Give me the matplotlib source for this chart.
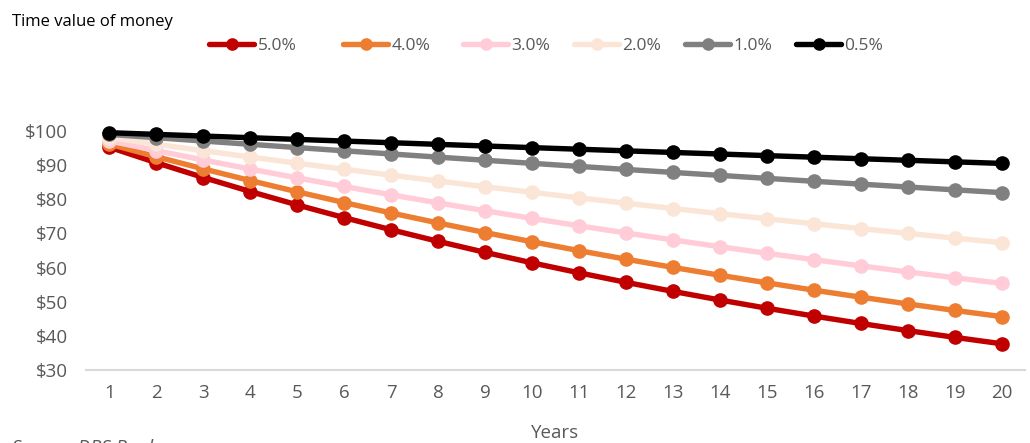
import matplotlib.pyplot as plt

plt.rcParams['font.family'] = ['Open Sans', 'DejaVu Sans']

years = list(range(1, 21))
rate_labels = ['5.0%', '4.0%', '3.0%', '2.0%', '1.0%', '0.5%']
colours = ['#C00000', '#ED7D31', '#FFCCD8', '#FBE5D6', '#808080', '#000000']

pv_5_0 = [95.24, 90.70, 86.38, 82.27, 78.35, 74.62, 71.07, 67.68, 64.46, 61.39,
          58.47, 55.68, 53.03, 50.51, 48.10, 45.81, 43.63, 41.55, 39.57, 37.69]
pv_4_0 = [96.15, 92.46, 88.90, 85.48, 82.19, 79.03, 75.99, 73.07, 70.26, 67.56,
          64.96, 62.46, 60.06, 57.75, 55.53, 53.39, 51.34, 49.36, 47.46, 45.64]
pv_3_0 = [97.09, 94.26, 91.51, 88.85, 86.26, 83.75, 81.31, 78.94, 76.64, 74.41,
          72.24, 70.14, 68.10, 66.11, 64.19, 62.32, 60.50, 58.74, 57.03, 55.37]
pv_2_0 = [98.04, 96.12, 94.23, 92.38, 90.57, 88.80, 87.06, 85.35, 83.68, 82.03,
          80.43, 78.85, 77.30, 75.79, 74.30, 72.84, 71.42, 70.02, 68.64, 67.30]
pv_1_0 = [99.01, 98.03, 97.06, 96.10, 95.15, 94.20, 93.27, 92.35, 91.43, 90.53,
          89.63, 88.74, 87.87, 87.00, 86.13, 85.28, 84.44, 83.60, 82.77, 81.95]
pv_0_5 = [99.50, 99.01, 98.52, 98.03, 97.54, 97.05, 96.57, 96.09, 95.61, 95.13,
          94.66, 94.19, 93.72, 93.26, 92.79, 92.33, 91.88, 91.42, 90.97, 90.51]
series = [pv_5_0, pv_4_0, pv_3_0, pv_2_0, pv_1_0, pv_0_5]

y_ticks = [30, 40, 50, 60, 70, 80, 90, 100]

W, H = 1030, 443
fig = plt.figure(figsize=(W / 100, H / 100), dpi=100)
ax = fig.add_axes([86 / W, 1 - 370 / H, 939 / W, 239 / H])

lines = []
for vals, lab, col in zip(series, rate_labels, colours):
    ln, = ax.plot(years, vals, color=col, lw=3.9, marker='o', ms=9.5,
                  label=lab, clip_on=False, solid_capstyle='round')
    lines.append(ln)

ax.set_xlim(0.5, 20.5)
ax.set_ylim(30, 100)
ax.set_xticks(years)
ax.set_yticks(y_ticks)
ax.set_yticklabels(['$%d' % v for v in y_ticks])
ax.tick_params(axis='both', length=0, labelsize=13.5, labelcolor='#595959')
ax.tick_params(axis='y', pad=13)
ax.tick_params(axis='x', pad=10)
for s in ['top', 'right', 'left']:
    ax.spines[s].set_visible(False)
ax.spines['bottom'].set_color('#D9D9D9')
ax.spines['bottom'].set_linewidth(1.5)

# legend entries sit at uneven spacing, so each gets its own small legend
legend_x = [209, 343, 463, 574, 685, 796]
for ln, x0 in zip(lines, legend_x):
    leg = fig.legend(handles=[ln], loc='center left',
                     bbox_to_anchor=(x0 / W, 1 - 46 / H), frameon=False,
                     fontsize=12.5, handlelength=2.6, handletextpad=0.2,
                     borderpad=0, borderaxespad=0, markerscale=0.85)
    for t in leg.get_texts():
        t.set_color('#595959')

fig.text(12 / W, 1 - 22 / H, 'Time value of money', fontsize=12,
         color='black', va='center', ha='left')
fig.text(555 / W, 1 - 433 / H, 'Years', fontsize=13.5, color='#595959',
         ha='center', va='center')
fig.text(12 / W, 1 - 439 / H, 'Source: DBS Bank', fontsize=13.5,
         color='#595959', style='italic', ha='left', va='top')

fig.savefig('out.png', dpi=100)
